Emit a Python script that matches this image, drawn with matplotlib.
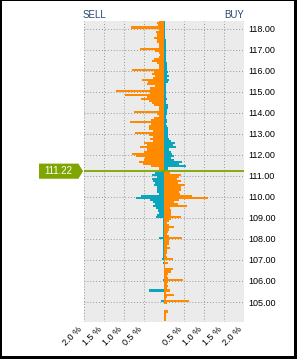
import numpy as np
import matplotlib
matplotlib.use("Agg")
import matplotlib.pyplot as plt
import matplotlib.transforms as mtransforms
from matplotlib.patches import Rectangle, Polygon

plt.rcParams['font.family'] = ['Liberation Sans', 'DejaVu Sans']

# --- data (percent of book per 0.1 price bucket, top to bottom) ---
current_price = 111.22
top_level = 118.35
step = 0.1

orange_vals = [
    0.12, 0.17, 0.15, 0.82,                                        # 118.x
    0.13, 0.20, 0.17, 0.17, 0.25, 0.17, 0.17, 0.13, 0.13, 0.60,    # 117.x
    0.22, 0.13, 0.10, 0.13, 0.25, 0.29, 0.17, 0.12, 0.13, 0.80,    # 116.x
    0.25, 0.30, 0.23, 0.27, 0.55, 0.40, 0.43, 0.22, 0.35, 1.20,    # 115.x
    0.35, 0.98, 0.43, 0.57, 0.37, 0.30, 0.25, 0.12, 0.12, 0.75,    # 114.x
    0.17, 0.12, 0.25, 0.33, 0.85, 0.33, 0.38, 0.37, 0.27, 0.73,    # 113.x
    0.37, 0.27, 0.35, 0.27, 0.50, 0.43, 0.60, 0.43, 0.50, 0.80,    # 112.x
    0.70, 0.47, 0.50, 0.63, 0.52, 0.33, 0.13, 0.05, 0.15, 0.42,    # 111.x
    0.38, 0.32, 0.43, 0.35, 0.53, 0.43, 0.43, 0.37, 0.40, 0.70,    # 110.x
    1.10, 0.38, 0.25, 0.35, 0.57, 0.15, 0.18, 0.17, 0.18, 0.42,    # 109.x
    0.18, 0.12, 0.07, 0.12, 0.25, 0.12, 0.10, 0.08, 0.12, 0.45,    # 108.x
    0.12, 0.13, 0.12, 0.08, 0.15, 0.08, 0.07, 0.04, 0.08, 0.22,    # 107.x
    0.03, 0.10, 0.03, 0.03, 0.22, 0.17, 0.10, 0.07, 0.10, 0.48,    # 106.x
    0.10, 0.07, 0.10, 0.07, 0.15, 0.05, 0.25, 0.07, 0.05, 0.63,    # 105.x
    0.07, 0.00, 0.00, 0.00, 0.10, 0.05, 0.04, 0.05, 0.04,          # 104.x
]

cyan_vals = [
    0.03, 0.03, 0.03, 0.03,
    0.03, 0.03, 0.03, 0.03, 0.03, 0.04, 0.04, 0.04, 0.04, 0.04,
    0.04, 0.04, 0.04, 0.04, 0.04, 0.05, 0.07, 0.08, 0.07, 0.08,
    0.10, 0.07, 0.12, 0.08, 0.12, 0.10, 0.05, 0.04, 0.04, 0.05,
    0.04, 0.04, 0.05, 0.07, 0.05, 0.04, 0.10, 0.10, 0.07, 0.08,
    0.07, 0.06, 0.06, 0.08, 0.07, 0.06, 0.08, 0.09, 0.10, 0.10,
    0.10, 0.10, 0.12, 0.17, 0.28, 0.23, 0.30, 0.13, 0.18, 0.20,
    0.25, 0.18, 0.25, 0.45, 0.37, 0.55, 0.10, 0.03, 0.22, 0.30,
    0.18, 0.30, 0.27, 0.22, 0.25, 0.18, 0.17, 0.17, 0.13, 0.57,
    0.70, 0.35, 0.27, 0.23, 0.28, 0.20, 0.15, 0.13, 0.17, 0.20,
    0.03, 0.03, 0.03, 0.03, 0.03, 0.03, 0.03, 0.03, 0.03, 0.13,
    0.03, 0.03, 0.03, 0.03, 0.03, 0.03, 0.03, 0.03, 0.03, 0.05,
    0.00, 0.02, 0.00, 0.00, 0.00, 0.00, 0.00, 0.00, 0.00, 0.03,
    0.00, 0.00, 0.00, 0.00, 0.38, 0.00, 0.00, 0.00, 0.00, 0.08,
    0.00, 0.00, 0.00, 0.00, 0.00, 0.00, 0.00, 0.00, 0.00,
]

y_ticks = [105, 106, 107, 108, 109, 110, 111, 112, 113, 114, 115, 116, 117, 118]
x_ticks = [-2.0, -1.5, -1.0, -0.5, 0.5, 1.0, 1.5, 2.0]
x_labels = ['2.0 %', '1.5 %', '1.0 %', '0.5 %', '0.5 %', '1.0 %', '1.5 %', '2.0 %']

ORANGE = '#ff8a00'
CYAN = '#0ba5bd'
GREEN = '#7fa600'
LABEL_BLUE = '#2c4670'

# --- figure with black frame ---
fig = plt.figure(figsize=(2.97, 3.59), dpi=100)
fig.patch.set_facecolor('black')
fig.patches.append(Rectangle((2 / 297, 3 / 359), 292 / 297, 355 / 359,
                             transform=fig.transFigure, facecolor='white',
                             edgecolor='none', zorder=-10))

ax = fig.add_axes([84 / 297, 37 / 359, 160 / 297, 301 / 359])
ax.set_facecolor('#ebebeb')

levels = top_level - step * np.arange(len(orange_vals))
orange = np.array(orange_vals)
cyan = np.array(cyan_vals)
above = levels > current_price

ax.barh(levels, np.where(above, -orange, orange), height=step,
        color=ORANGE, linewidth=0, zorder=2)
ax.barh(levels, np.where(above, cyan, -cyan), height=step,
        color=CYAN, linewidth=0, zorder=2)

ax.axhline(current_price, color=GREEN, lw=1.3, zorder=3)

ax.set_xlim(-2, 2)
ax.set_ylim(104.05, 118.36)

ax.set_xticks(x_ticks)
ax.set_xticklabels(x_labels, rotation=45, ha='right', fontsize=6.5)
shift = mtransforms.ScaledTranslation(4 / 100, -2 / 100, fig.dpi_scale_trans)
for lab in ax.get_xticklabels():
    lab.set_transform(lab.get_transform() + shift)
ax.set_yticks(y_ticks)
ax.set_yticklabels([f"{v:.2f}" for v in y_ticks], fontsize=6.5)
ax.yaxis.tick_right()
ax.tick_params(length=0, pad=3)
ax.tick_params(axis='x', pad=2)

ax.grid(True, color='#999999', linestyle=(0, (1, 2)), linewidth=0.7)
ax.set_axisbelow(True)
for s in ax.spines.values():
    s.set_visible(False)

# price tag on the left
tr = ax.get_yaxis_transform()
half = 0.36
tag = Polygon([(-0.281, current_price + half), (-0.035, current_price + half),
               (-0.006, current_price), (-0.035, current_price - half),
               (-0.281, current_price - half)],
              closed=True, transform=tr, facecolor=GREEN, edgecolor='none',
              clip_on=False, zorder=4)
ax.add_patch(tag)
ax.text(-0.16, current_price, f"{current_price:.2f}", transform=tr,
        color='white', fontsize=7, ha='center', va='center', clip_on=False,
        zorder=5)

fig.text(83 / 297, 1 - 15 / 359, 'SELL', color=LABEL_BLUE, fontsize=7,
         ha='left', va='center')
fig.text(244 / 297, 1 - 15 / 359, 'BUY', color=LABEL_BLUE, fontsize=7,
         ha='right', va='center')

fig.savefig('out.png', dpi=100, facecolor=fig.get_facecolor())
